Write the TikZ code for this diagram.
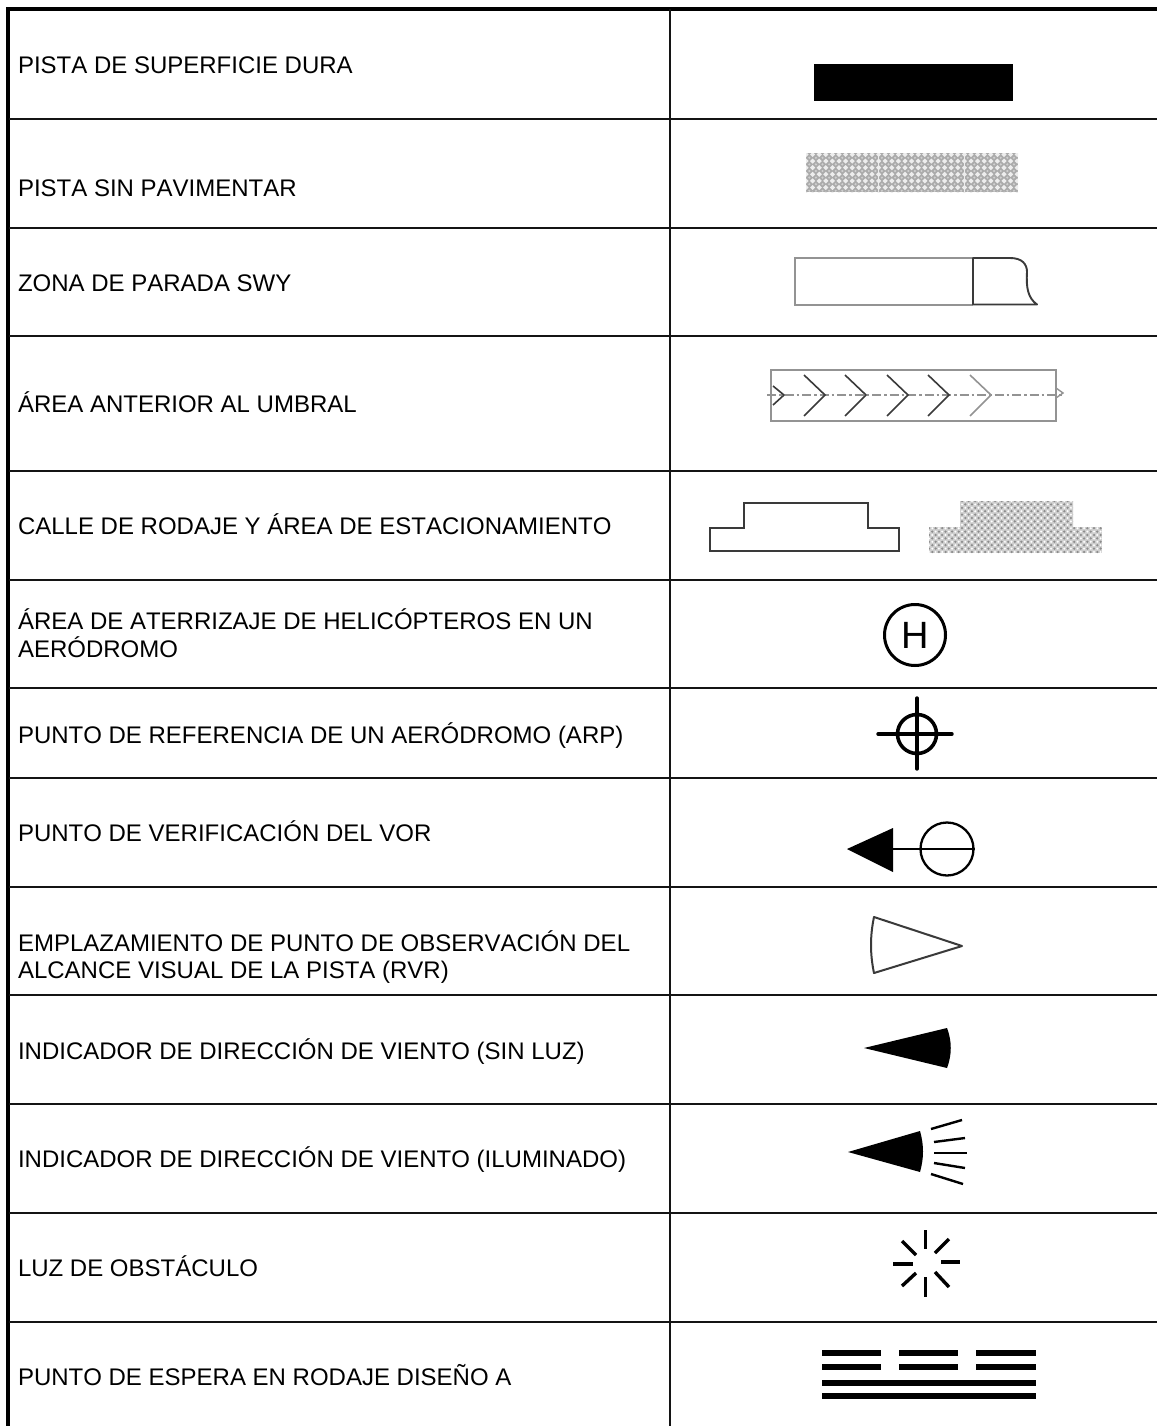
\documentclass[tikz,border=0pt]{standalone}
\usepackage{fontspec}
\setmainfont[Kerning=Off]{Liberation Sans}
\definecolor{rule}{HTML}{141414}
\definecolor{grayln}{HTML}{939393}
\definecolor{darkln}{HTML}{3A3A3A}
\definecolor{hatchA}{HTML}{ABABAB}
\definecolor{hatchB}{HTML}{CFCFCF}
\definecolor{hatchC}{HTML}{EDEDED}
\definecolor{dotB}{HTML}{8C8C8C}
\tikzset{
  rowline/.style={draw=rule,line width=2pt},
  frameline/.style={draw=black,line width=4pt},
  label/.style={anchor=base west,inner sep=0pt,outer sep=0pt,font=\fontsize{24}{27.5}\selectfont,text=black},
  twolabel/.style={anchor=west,inner sep=0pt,outer sep=0pt,font=\fontsize{24}{27.5}\selectfont,align=left,text=black},
  ray/.style={draw=black,line width=3.4pt},
  fan/.style={draw=black,line width=2.4pt},
  thinbox/.style={draw=grayln,line width=1.5pt},
  darkbox/.style={draw=darkln,line width=1.9pt},
}
\begin{document}
\begin{tikzpicture}[x=1pt,y=-1pt]
\useasboundingbox (0,0) rectangle (1157,1426);
\fill[white] (0,0) rectangle (1157,1426);
% frame
\coordinate (tl) at (8,9);
\coordinate (tr) at (1157,9);
\coordinate (bl) at (8,1426);
\coordinate (mt) at (670,9);
\coordinate (mb) at (670,1426);
\draw[frameline] (6,9) -- (tr);
\draw[frameline] (tl) -- (bl);
\draw[rowline] (mt) -- (mb);
\foreach \y in {119,228,336,471,580,688,778,887,995,1104,1213,1322}
  \draw[rowline] (9,\y) -- (1157,\y);
% labels
\node[label] (t1) at (18,73.5) {PISTA DE SUPERFICIE DURA};
\node[label] (t2) at (18,196.5) {PISTA SIN PAVIMENTAR};
\node[label] (t3) at (18,291.5) {ZONA DE PARADA SWY};
\node[label] (t4) at (18,412.5) {ÁREA ANTERIOR AL UMBRAL};
\node[label] (t5) at (18,534.5) {CALLE DE RODAJE Y ÁREA DE ESTACIONAMIENTO};
\node[twolabel] (t6) at (18,633) {ÁREA DE ATERRIZAJE DE HELICÓPTEROS EN UN\\AERÓDROMO};
\node[label] (t7) at (18,743.5) {PUNTO DE REFERENCIA DE UN AERÓDROMO (ARP)};
\node[label] (t8) at (18,841.5) {PUNTO DE VERIFICACIÓN DEL VOR};
\node[twolabel] (t9) at (18,957) {EMPLAZAMIENTO DE PUNTO DE OBSERVACIÓN DEL\\ALCANCE VISUAL DE LA PISTA (RVR)};
\node[label] (t10) at (18,1059.5) {INDICADOR DE DIRECCIÓN DE VIENTO (SIN LUZ)};
\node[label] (t11) at (18,1167.5) {INDICADOR DE DIRECCIÓN DE VIENTO (ILUMINADO)};
\node[label] (t12) at (18,1276.5) {LUZ DE OBSTÁCULO};
\node[label] (t13) at (18,1385.5) {PUNTO DE ESPERA EN RODAJE DISEÑO A};
% hard runway
\fill[black] (814,64) rectangle (1013,101);
% unpaved runway
\begin{scope}
\clip (806,153) rectangle (1018,192);
\fill[hatchA] (806,153) rectangle (1018,192);
\foreach \i in {0,...,32}{
  \foreach \j in {0,...,6}{
    \fill[hatchC] ({806+6.6*\i},{154.5+6.6*\j}) +(-2.6,0) -- +(0,-2.6) -- +(2.6,0) -- +(0,2.6) -- cycle;
    \fill[hatchB] ({809.3+6.6*\i},{157.8+6.6*\j}) circle (1.2);
  }}
\draw[hatchC,line width=0.7pt] (878,153) -- (878,192) (964,153) -- (964,192);
\end{scope}
% stopway
\draw[thinbox] (973,258) -- (795,258) -- (795,305) -- (973,305);
\draw[darkbox,line join=round] (973,304.5) -- (973,258) -- (1010,258) .. controls (1022,258) and (1027,264) .. (1027,272) .. controls (1026,288) and (1028,298) .. (1037,304.5) -- cycle;
% pre-threshold
\draw[thinbox] (771,370) rectangle (1056,421);
\draw[grayln,line width=1.4pt] (1056,388) -- (1063,393) -- (1056,398);
\draw[grayln,line width=1.6pt,dash pattern=on 9pt off 3pt on 2.5pt off 3pt] (767,395) -- (1063,395);
\draw[darkln,line width=1.6pt] (773,386) -- (784,395) -- (773,405);
\foreach \x/\c in {825/darkln,866/darkln,908/darkln,949/darkln,991/grayln}
  \draw[\c,line width=1.6pt] (\x-21,375) -- (\x,395) -- (\x-21,416);
% taxiway, outline
\draw[darkbox,line width=2.1pt] (710,551) -- (710,528) -- (744,528) -- (744,503) -- (868,503) -- (868,528) -- (899,528) -- (899,551) -- cycle;
% taxiway, dotted
\begin{scope}
\clip (929,553) -- (929,527) -- (960,527) -- (960,501) -- (1073,501) -- (1073,527) -- (1102,527) -- (1102,553) -- cycle;
\fill[hatchB] (929,501) rectangle (1102,553);
\foreach \i in {0,...,52}{
  \foreach \j in {0,...,15}{
    \pgfmathtruncatemacro{\odd}{mod(\i+\j,2)}
    \ifnum\odd=0
      \fill[dotB] ({929+3.3*\i},{501+3.4*\j}) circle (1.25);
    \else
      \fill[white] ({929+3.3*\i},{501+3.4*\j}) circle (1.1);
    \fi
  }}
\end{scope}
% helicopter
\node[circle,draw=black,line width=3pt,minimum size=61pt,inner sep=0pt,font=\fontsize{38}{38}\selectfont] (heli) at (915,635) {H};
% ARP
\node[circle,draw=black,line width=3.6pt,minimum size=39pt,inner sep=0pt] (arp) at (917,734) {};
\draw[black,line width=3.4pt,line cap=round] (878,734) -- (952,734);
\draw[black,line width=3.4pt,line cap=round] (917,698) -- (917,769);
% VOR check point
\node[circle,draw=black,line width=2.3pt,minimum size=53pt,inner sep=0pt] (vor) at (947,849) {};
\fill[black] (847,849) -- (893,828) -- (893,872) -- cycle;
\coordinate (vorback) at (893,849);
\draw[black,line width=2.3pt] (vorback) -- (vor.east);
% RVR
\draw[darkln,line width=2pt,line join=round] (962,946) -- (874,917) .. controls (870,936) and (870,954) .. (874,973) -- cycle;
% wind indicator
\fill[black] (864,1048) -- (947,1028) .. controls (952,1041) and (952,1055) .. (947,1068) -- cycle;
% wind indicator lit
\fill[black] (848,1152) -- (920,1131) .. controls (924,1145) and (924,1158) .. (920,1172) -- cycle;
\draw[fan] (931,1129) -- (962,1120);
\draw[fan] (934,1142) -- (965,1138);
\draw[fan] (934,1153) -- (967,1153);
\draw[fan] (934,1163) -- (965,1168);
\draw[fan] (931,1174) -- (963,1184);
% obstacle light
\draw[ray] (925.5,1230) -- (925.5,1249);
\draw[ray] (935,1253) -- (949,1239);
\draw[ray] (941,1262) -- (960,1262);
\draw[ray] (935,1272) -- (949,1287);
\draw[ray] (925.5,1277) -- (925.5,1297);
\draw[ray] (916,1273) -- (902,1286);
\draw[ray] (893,1264) -- (913,1264);
\draw[ray] (916,1255) -- (902,1241);
% holding position
\foreach \y in {1353.3,1366.7}{
  \fill[black] (822,\y-3) rectangle (881,\y+3);
  \fill[black] (899,\y-3) rectangle (958,\y+3);
  \fill[black] (976,\y-3) rectangle (1036,\y+3);
}
\foreach \y in {1383,1396}
  \fill[black] (822,\y-3) rectangle (1036,\y+3);
\end{tikzpicture}
\end{document}
